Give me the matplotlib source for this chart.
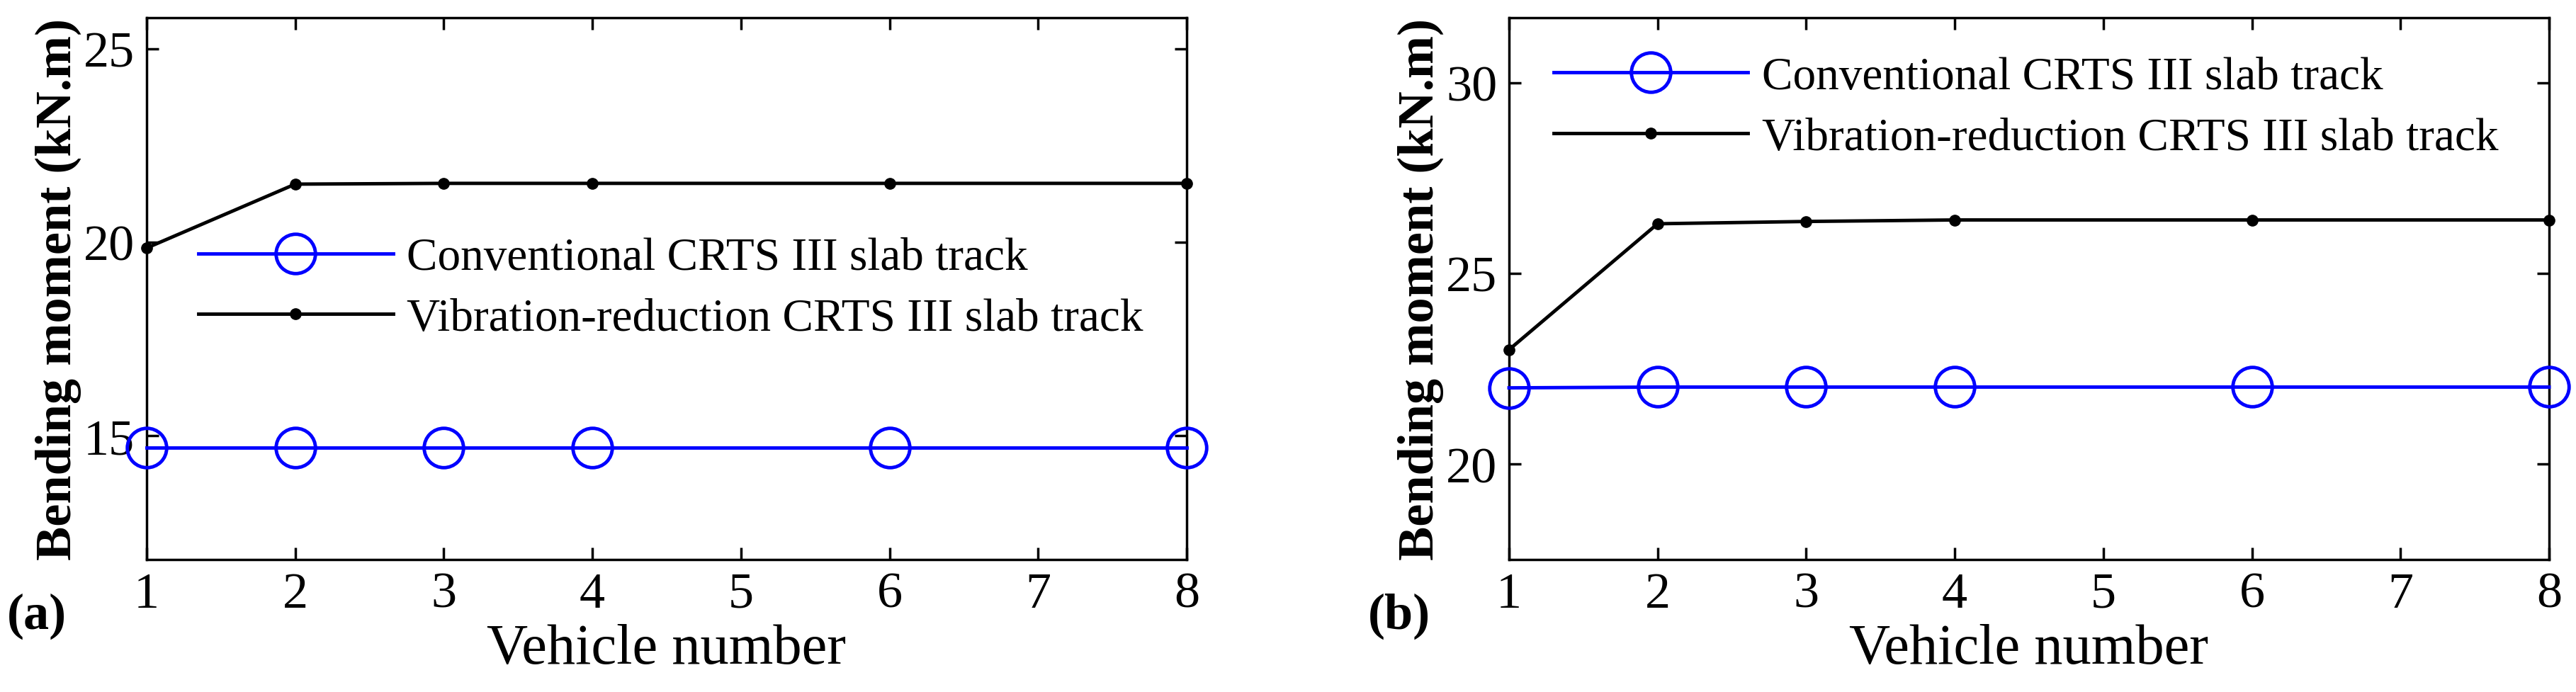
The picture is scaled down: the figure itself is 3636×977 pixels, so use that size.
import matplotlib
matplotlib.use("Agg")
import matplotlib.pyplot as plt

plt.rcParams['font.family'] = ['Liberation Serif', 'DejaVu Serif']

vehicles = [1, 2, 3, 4, 6, 8]
conv_a = [14.7, 14.7, 14.7, 14.7, 14.7, 14.7]
vib_a = [19.85, 21.5, 21.52, 21.52, 21.52, 21.52]
conv_b = [22.0, 22.02, 22.02, 22.02, 22.02, 22.02]
vib_b = [23.0, 26.3, 26.36, 26.4, 26.4, 26.4]
labels = ["Conventional CRTS III slab track", "Vibration-reduction CRTS III slab track"]

W, H = 3636, 978
fig = plt.figure(figsize=(W/100, H/100), dpi=100)

def make(x0, conv, vib, ylim, yticks, leg_xy, tag):
    ax = fig.add_axes([x0/W, 1-791/H, 1468/W, 765/H])
    ax.plot(vehicles, conv, color='#0000ff', lw=3.5, marker='o', ms=40,
            mfc='none', mec='#0000ff', mew=3.5, label=labels[0], clip_on=False, zorder=3)
    ax.plot(vehicles, vib, color='black', lw=3.5, marker='o', ms=11,
            label=labels[1], clip_on=False, zorder=3)
    ax.set_xlim(1, 8)
    ax.set_ylim(*ylim)
    ax.set_xticks(range(1, 9))
    ax.set_yticks(yticks)
    ax.tick_params(direction='in', length=12, width=2.5, labelsize=52,
                   top=True, right=True, pad=12)
    for s in ax.spines.values():
        s.set_linewidth(2.5)
    ax.set_xlabel("Vehicle number", fontsize=58, labelpad=6)
    ax.set_ylabel("Bending moment (kN.m)", fontsize=52, fontweight='bold', labelpad=2)
    ax.legend(loc='center left', bbox_to_anchor=leg_xy, frameon=False, fontsize=47,
              handlelength=4.2, handletextpad=0.3, labelspacing=0.4, borderpad=0,
              borderaxespad=0)
    fig.text((x0-155)/W, 1-870/H, tag, fontsize=52, fontweight='bold', va='center', ha='center')
    return ax

make(207, conv_a, vib_a, (11.8, 25.8), [15, 20, 25], (0.05, 0.5), "(a)")
make(2130, conv_b, vib_b, (17.5, 31.7), [20, 25, 30], (0.043, 0.834), "(b)")

fig.savefig("out.png", dpi=100)
